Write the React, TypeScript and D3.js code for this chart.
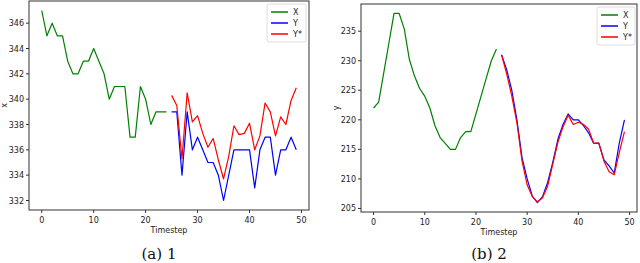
import * as d3 from "d3";

const steps = d3.range(50);

const xIn = [347, 345, 346, 345, 345, 343, 342, 342, 343, 343, 344, 343, 342, 340, 341, 341, 341, 337, 337, 341, 340, 338, 339, 339, 339];
const xTrue = [339, 339, 334, 339, 336, 337, 336, 335, 335, 334, 332, 334, 336, 336, 336, 336, 333, 336, 337, 337, 334, 336, 336, 337, 336];
const xPred = [340.3, 339.5, 335.3, 340.5, 338.2, 338.7, 337.3, 336.2, 336.9, 335.2, 333.7, 335.5, 337.9, 337.2, 337.3, 338.1, 336.0, 337.1, 339.7, 339.0, 337.1, 338.6, 338.0, 339.9, 340.9];

const yIn = [222, 223, 228, 233, 238, 238, 235.4, 230.2, 227.4, 225.3, 224, 222, 219, 217, 216, 215, 215, 217, 218, 218, 221, 224, 227, 230, 232];
const yTrue = [231, 228.5, 225, 220, 213.6, 210, 207.1, 206, 207, 209.4, 212.8, 216.7, 219.2, 221, 220, 220, 219, 217.8, 216, 216, 213.2, 212.2, 211, 216.1, 220];
const yPred = [231, 227.8, 224, 219.5, 213, 209, 207, 206.1, 206.8, 208.8, 212.5, 216.2, 218.8, 220.8, 219.2, 219.6, 219.2, 218.4, 216, 216.1, 213, 211.2, 210.7, 214.5, 218];

const xTicks = [0, 10, 20, 30, 40, 50];
const leftYTicks = [332, 334, 336, 338, 340, 342, 344, 346];
const rightYTicks = [205, 210, 215, 220, 225, 230, 235];

const legendItems = [
  { name: "X", color: "#008000" },
  { name: "Y", color: "#0000ff" },
  { name: "Y*", color: "#ff0000" },
];

const tickFont = "DejaVu Sans, sans-serif";

function Panel({
  box,
  yDomain,
  yTicks,
  yLabel,
  series,
  legend,
  caption,
}: {
  box: { l: number; r: number; t: number; b: number };
  yDomain: [number, number];
  yTicks: number[];
  yLabel: string;
  series: { data: number[]; start: number; color: string }[];
  legend: { x: number; y: number; w: number; h: number };
  caption: string;
}) {
  const x = d3.scaleLinear().domain([-2.45, 51.45]).range([box.l, box.r]);
  const y = d3.scaleLinear().domain(yDomain).range([box.b, box.t]);
  const line = d3
    .line<[number, number]>()
    .x((d) => x(d[0]))
    .y((d) => y(d[1]));
  const cx = (box.l + box.r) / 2;
  const cy = (box.t + box.b) / 2;
  return (
    <g>
      <rect x={box.l} y={box.t} width={box.r - box.l} height={box.b - box.t} fill="white" />
      {series.map((s, i) => (
        <path
          key={i}
          d={line(s.data.map((v, j) => [steps[s.start + j], v])) || undefined}
          fill="none"
          stroke={s.color}
          strokeWidth={1.2}
          strokeLinejoin="round"
        />
      ))}
      <rect
        x={box.l}
        y={box.t}
        width={box.r - box.l}
        height={box.b - box.t}
        fill="none"
        stroke="#333"
        strokeWidth={1}
      />
      {xTicks.map((t) => (
        <g key={t}>
          <line x1={x(t)} x2={x(t)} y1={box.b} y2={box.b + 3} stroke="#333" />
          <text x={x(t)} y={box.b + 13} fontSize={8} textAnchor="middle" fill="#222" fontFamily={tickFont}>
            {t}
          </text>
        </g>
      ))}
      {yTicks.map((t) => (
        <g key={t}>
          <line x1={box.l - 3} x2={box.l} y1={y(t)} y2={y(t)} stroke="#333" />
          <text x={box.l - 5} y={y(t) + 3} fontSize={8} textAnchor="end" fill="#222" fontFamily={tickFont}>
            {t}
          </text>
        </g>
      ))}
      <text x={cx} y={box.b + 23} fontSize={8} textAnchor="middle" fill="#222" fontFamily={tickFont}>
        Timestep
      </text>
      <text
        transform={`translate(${box.l - 22},${cy}) rotate(-90)`}
        fontSize={8}
        textAnchor="middle"
        fill="#222"
        fontFamily={tickFont}
      >
        {yLabel}
      </text>
      <rect
        x={legend.x}
        y={legend.y}
        width={legend.w}
        height={legend.h}
        rx={2}
        fill="white"
        fillOpacity={0.8}
        stroke="#ddd"
      />
      {legendItems.map((it, i) => (
        <g key={it.name}>
          <line
            x1={legend.x + 4}
            x2={legend.x + 21}
            y1={legend.y + 8 + i * 11}
            y2={legend.y + 8 + i * 11}
            stroke={it.color}
            strokeWidth={1.5}
          />
          <text x={legend.x + 26} y={legend.y + 11 + i * 11} fontSize={8} fill="#222" fontFamily={tickFont}>
            {it.name}
          </text>
        </g>
      ))}
      <text x={cx - 10} y={259} fontSize={15} textAnchor="middle" fill="#111" fontFamily="DejaVu Serif, serif">
        {caption}
      </text>
    </g>
  );
}

export default function App() {
  return (
    <svg width={640} height={263} style={{ position: "absolute", left: 0, top: 0, background: "white" }}>
      <Panel
        box={{ l: 29, r: 309, t: 1, b: 210 }}
        yDomain={[331.25, 347.75]}
        yTicks={leftYTicks}
        yLabel="x"
        series={[
          { data: xIn, start: 0, color: "#008000" },
          { data: xTrue, start: 25, color: "#0000ff" },
          { data: xPred, start: 25, color: "#ff0000" },
        ]}
        legend={{ x: 267, y: 4, w: 39, h: 38 }}
        caption="(a) 1"
      />
      <Panel
        box={{ l: 361, r: 637, t: 4, b: 212 }}
        yDomain={[204.4, 239.6]}
        yTicks={rightYTicks}
        yLabel="y"
        series={[
          { data: yIn, start: 0, color: "#008000" },
          { data: yTrue, start: 25, color: "#0000ff" },
          { data: yPred, start: 25, color: "#ff0000" },
        ]}
        legend={{ x: 597, y: 7, w: 38, h: 38 }}
        caption="(b) 2"
      />
    </svg>
  );
}
